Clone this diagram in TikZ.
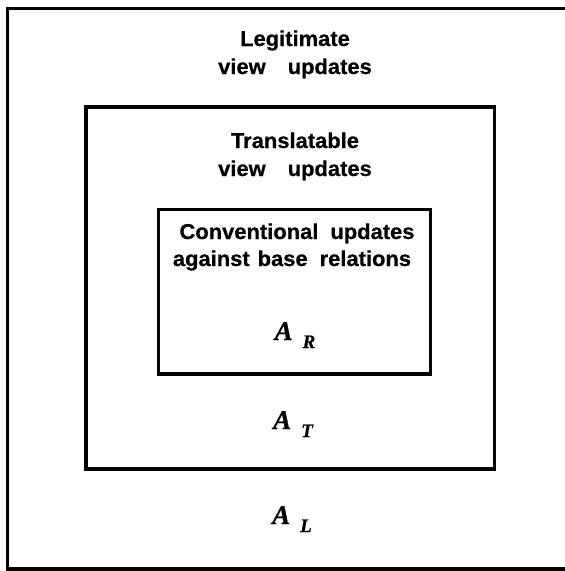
\documentclass[tikz,border=0pt]{standalone}
\usepackage{fontspec}
\setmainfont{Liberation Sans}
\newfontfamily\labelfont{Liberation Sans}[FakeStretch=1.02,FakeBold=0.6]
\newfontfamily\symfont{Liberation Serif}[FakeBold=0.8]
\begin{document}
\begin{tikzpicture}[x=1pt,y=-1pt]
  \tikzset{
    setbox/.style={draw=black,line width=3.2pt},
    caption/.style={font=\labelfont\bfseries\fontsize{21.5}{24}\selectfont,anchor=base,inner sep=0pt},
    setname/.style={font=\symfont\bfseries\itshape\fontsize{27}{30}\selectfont,anchor=base,inner sep=0pt}
  }
  \newcommand{\gapw}{\hspace*{22pt}}
  \newcommand{\setsym}[1]{A\hspace*{10pt}\raisebox{-8pt}{\fontsize{19}{20}\selectfont #1}}
  \useasboundingbox (0,0) rectangle (565,571);

  % nested sets of view updates
  \draw[setbox] (7.5,8.5) rectangle (580,569);
  \draw[setbox] (86,107) rectangle (494.5,469);
  \draw[setbox] (158.5,209.5) rectangle (430.5,374);

  % outer set
  \node[caption] (legit1) at (295,46) {Legitimate};
  \node[caption] (legit2) at (295,74) {view\gapw updates};
  \node[setname] (AL) at (292,524) {\setsym{L}};

  % middle set
  \node[caption] (trans1) at (295,148) {Translatable};
  \node[caption] (trans2) at (295,176) {view\gapw updates};
  \node[setname] (AT) at (293,429) {\setsym{T}};

  % inner set
  \node[caption] (conv1) at (297,239) {Conventional\hspace*{12pt}updates};
  \node[caption] (conv2) at (292,266) {against\hspace*{8pt}base\hspace*{12pt}relations};
  \node[setname] (AR) at (295,340) {\setsym{R}};
\end{tikzpicture}
\end{document}
